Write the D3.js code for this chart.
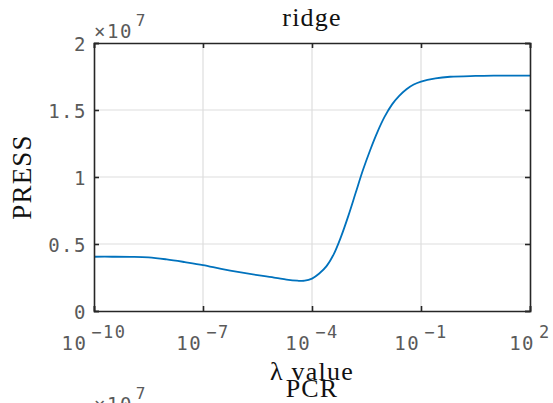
<!DOCTYPE html>
<html>
<head>
<meta charset="utf-8">
<script src="https://cdn.jsdelivr.net/npm/d3@7"></script>
<style>
  html, body { margin: 0; padding: 0; background: #fff; }
  svg { display: block; }
  .tick-label { font-family: "DejaVu Sans Mono", "Liberation Mono", monospace; fill: #5a5a5a; letter-spacing: 1.5px; }
  .tex { font-family: "Liberation Serif", "DejaVu Serif", serif; fill: #111; letter-spacing: 1.2px; }
</style>
</head>
<body>
<svg id="chart" width="553" height="403"></svg>
<script>
// Ridge regression: cross-validated PRESS against the regularisation parameter λ
// log10(λ) of each evaluated point
const lambdaExp = [-10, -9.5, -9, -8.5, -8, -7.5, -7, -6.5, -6, -5.5, -5, -4.7, -4.4,
  -4.2, -4, -3.8, -3.6, -3.4, -3.2, -3, -2.8, -2.6, -2.4, -2.2, -2,
  -1.8, -1.6, -1.4, -1.2, -1, -0.6, -0.2, 0.5, 1, 2];
const press = [4.05e6, 4.05e6, 4.04e6, 4.00e6, 3.85e6, 3.65e6, 3.43e6, 3.15e6, 2.90e6, 2.68e6, 2.48e6, 2.34e6, 2.26e6,
  2.26e6, 2.42e6, 2.80e6, 3.35e6, 4.25e6, 5.55e6, 7.10e6, 8.80e6, 10.5e6, 12.0e6, 13.35e6, 14.5e6,
  15.4e6, 16.05e6, 16.55e6, 16.9e6, 17.12e6, 17.36e6, 17.48e6, 17.54e6, 17.56e6, 17.56e6];
const lambdas = lambdaExp.map(e => Math.pow(10, e));

const xTickExps = ["-10", "-7", "-4", "-1", "2"];
const xTicks = [1e-10, 1e-7, 1e-4, 1e-1, 1e2];
const yTicks = [0, 0.5e7, 1e7, 1.5e7, 2e7];
const yTickLabels = ["0", "0.5", "1", "1.5", "2"];

const margin = { left: 94, right: 23, top: 43, bottom: 92 };
const W = 553, H = 403;
const x0 = margin.left, x1 = W - margin.right, y0 = margin.top, y1 = H - margin.bottom;

const svg = d3.select("#chart");
const x = d3.scaleLog().domain([1e-10, 1e2]).range([x0, x1]);
const y = d3.scaleLinear().domain([0, 2e7]).range([y1, y0]);

// grid
const grid = svg.append("g").attr("stroke", "#dedede").attr("stroke-width", 1.2);
grid.selectAll(".gx").data(xTicks.slice(1, -1)).join("line")
  .attr("x1", d => x(d)).attr("x2", d => x(d)).attr("y1", y0).attr("y2", y1);
grid.selectAll(".gy").data(yTicks.slice(1, -1)).join("line")
  .attr("y1", d => y(d)).attr("y2", d => y(d)).attr("x1", x0).attr("x2", x1);

// curve
const line = d3.line().x((d, i) => x(lambdas[i])).y(d => y(d)).curve(d3.curveCatmullRom.alpha(0.5));
svg.append("path").datum(press).attr("d", line)
  .attr("fill", "none").attr("stroke", "#0072BD").attr("stroke-width", 1.8);

// axes: ticks inward on all four sides
const tl = 5;
const axB = svg.append("g").attr("transform", `translate(0,${y1})`)
  .call(d3.axisBottom(x).tickValues(xTicks).tickSize(-tl).tickFormat(""));
const axT = svg.append("g").attr("transform", `translate(0,${y0})`)
  .call(d3.axisTop(x).tickValues(xTicks).tickSize(-tl).tickFormat(""));
const axL = svg.append("g").attr("transform", `translate(${x0},0)`)
  .call(d3.axisLeft(y).tickValues(yTicks).tickSize(-tl).tickFormat(""));
const axR = svg.append("g").attr("transform", `translate(${x1},0)`)
  .call(d3.axisRight(y).tickValues(yTicks).tickSize(-tl).tickFormat(""));
[axB, axT, axL, axR].forEach(a => {
  a.selectAll("path.domain").attr("stroke", "#262626").attr("stroke-width", 1.6);
  a.selectAll(".tick line").attr("stroke", "#262626").attr("stroke-width", 1.6);
});

// y tick labels
svg.append("g").selectAll("text").data(yTicks).join("text")
  .attr("class", "tick-label")
  .attr("x", x0 - 7).attr("y", d => y(d)).attr("dy", "0.42em")
  .attr("text-anchor", "end").attr("font-size", 19)
  .text((d, i) => yTickLabels[i]);

// x tick labels 10^e
const xl = svg.append("g").selectAll("text").data(xTicks).join("text")
  .attr("class", "tick-label").attr("font-size", 19)
  .attr("x", d => x(d)).attr("y", y1 + 39).attr("text-anchor", "middle");
xl.append("tspan").text("10");
xl.append("tspan").attr("dx", 4).attr("dy", -12).attr("font-size", 17)
  .text((d, i) => xTickExps[i].replace("-", "\u2212"));

// exponent multiplier
function multiplier(xp, yp) {
  const t = svg.append("text").attr("class", "tick-label").attr("font-size", 19)
    .attr("letter-spacing", 1.5).attr("x", xp).attr("y", yp);
  t.append("tspan").text("\u00d710");
  t.append("tspan").attr("dx", 3).attr("dy", -12).attr("font-size", 16).text("7");
}
multiplier(94, 38);

// titles and labels
svg.append("text").attr("class", "tex").attr("x", (x0 + x1) / 2).attr("y", 26)
  .attr("text-anchor", "middle").attr("font-size", 26).text("ridge");
svg.append("text").attr("class", "tex").attr("transform", `translate(31,${(y0 + y1) / 2}) rotate(-90)`)
  .attr("text-anchor", "middle").attr("font-size", 27).attr("letter-spacing", 1.6).text("PRESS");
svg.append("text").attr("class", "tex").attr("x", (x0 + x1) / 2).attr("y", 380)
  .attr("text-anchor", "middle").attr("font-size", 26).text("\u03bb value");

// top of the next panel
svg.append("text").attr("class", "tex").attr("x", (x0 + x1) / 2).attr("y", 397)
  .attr("text-anchor", "middle").attr("font-size", 26).text("PCR");
multiplier(94, 411);
</script>
</body>
</html>
